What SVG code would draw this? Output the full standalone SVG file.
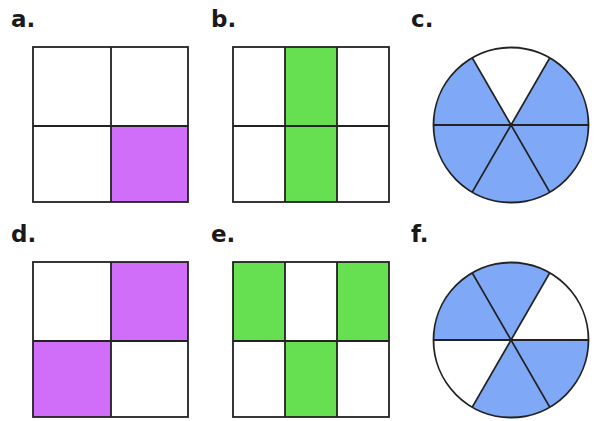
<svg xmlns="http://www.w3.org/2000/svg" width="600" height="421" viewBox="0 0 600 421">
  <style>
    .lbl { font-family: "DejaVu Sans", "Liberation Sans", sans-serif; font-weight: bold; font-size: 23px; fill: #1a1a1a; }
    .grid { fill: none; stroke: #222; stroke-width: 1.8; }
    .purple { fill: #d06ef9; }
    .green { fill: #66df50; }
    .blue { fill: #7fa8f6; }
    .white { fill: #ffffff; }
  </style>
  <rect width="600" height="421" fill="#ffffff"/>

  <!-- a: 2x2 grid, one quarter shaded -->
  <g id="panel-a">
    <text class="lbl" x="11" y="27">a.</text>
    <rect class="purple" x="111" y="126" width="77" height="76"/>
    <rect class="grid" x="33" y="47" width="155" height="155"/>
    <path class="grid" d="M111 47V202M33 126H188"/>
  </g>

  <!-- b: 3x2 grid, middle column shaded -->
  <g id="panel-b">
    <text class="lbl" x="211" y="27">b.</text>
    <rect class="green" x="285" y="47" width="52" height="155"/>
    <rect class="grid" x="233" y="47" width="156" height="155"/>
    <path class="grid" d="M285 47V202M337 47V202M233 126H389"/>
  </g>

  <!-- c: circle in sixths, five shaded -->
  <g id="panel-c">
    <text class="lbl" x="411" y="27">c.</text>
    <circle class="blue" cx="511" cy="125" r="77.5"/>
    <path class="white" d="M511 125L549.75 57.88A77.5 77.5 0 0 0 472.25 57.88Z"/>
    <path class="grid" d="M433.5 125H588.5M472.25 57.88L549.75 192.12M549.75 57.88L472.25 192.12"/>
    <circle class="grid" cx="511" cy="125" r="77.5"/>
  </g>

  <!-- d: 2x2 grid, diagonal quarters shaded -->
  <g id="panel-d">
    <text class="lbl" x="11" y="242">d.</text>
    <rect class="purple" x="111" y="262" width="77" height="79"/>
    <rect class="purple" x="33" y="341" width="78" height="76"/>
    <rect class="grid" x="33" y="262" width="155" height="155"/>
    <path class="grid" d="M111 262V417M33 341H188"/>
  </g>

  <!-- e: 3x2 grid, three cells shaded -->
  <g id="panel-e">
    <text class="lbl" x="211" y="242">e.</text>
    <rect class="green" x="233" y="262" width="52" height="79"/>
    <rect class="green" x="337" y="262" width="52" height="79"/>
    <rect class="green" x="285" y="341" width="52" height="76"/>
    <rect class="grid" x="233" y="262" width="156" height="155"/>
    <path class="grid" d="M285 262V417M337 262V417M233 341H389"/>
  </g>

  <!-- f: circle in sixths, four shaded -->
  <g id="panel-f">
    <text class="lbl" x="411" y="242">f.</text>
    <circle class="blue" cx="511" cy="340" r="77.5"/>
    <path class="white" d="M511 340L588.5 340A77.5 77.5 0 0 0 549.75 272.88Z"/>
    <path class="white" d="M511 340L433.5 340A77.5 77.5 0 0 0 472.25 407.12Z"/>
    <path class="grid" d="M433.5 340H588.5M472.25 272.88L549.75 407.12M549.75 272.88L472.25 407.12"/>
    <circle class="grid" cx="511" cy="340" r="77.5"/>
  </g>
</svg>
